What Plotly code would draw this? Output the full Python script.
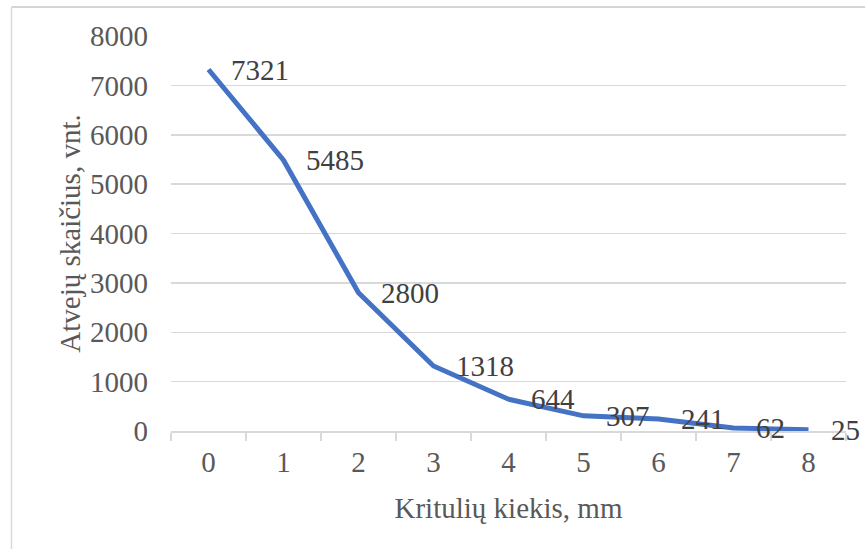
import plotly.graph_objects as go

categories = ["0", "1", "2", "3", "4", "5", "6", "7", "8"]
values = [7321, 5485, 2800, 1318, 644, 307, 241, 62, 25]
y_ticks = [0, 1000, 2000, 3000, 4000, 5000, 6000, 7000, 8000]

FONT = "Liberation Serif, Times New Roman, serif"
GREY = "#595959"
FS = 29

fig = go.Figure()
fig.add_trace(go.Scatter(
    x=categories, y=values, mode="lines",
    line=dict(color="#4472C4", width=5),
    hoverinfo="skip", showlegend=False,
))

for c, v in zip(categories, values):
    fig.add_annotation(
        x=c, y=v, xref="x", yref="y", text=str(v), showarrow=False,
        xanchor="left", yanchor="middle", xshift=20,
        font=dict(family=FONT, size=FS, color="#404040"),
    )

# outer chart border (left and top edges visible)
W, L, H, B = 675, 171, 395, 431
bx0 = (11.5 - L) / W
by1 = (B - 7) / H
fig.add_shape(type="line", xref="paper", yref="paper",
              x0=bx0, x1=(890 - L) / W, y0=by1, y1=by1,
              line=dict(color="#d4d4d4", width=2), layer="above")
fig.add_shape(type="line", xref="paper", yref="paper",
              x0=bx0, x1=bx0, y0=(B - 570) / H, y1=by1,
              line=dict(color="#d9d9d9", width=1.5), layer="above")

fig.update_layout(
    width=865, height=549,
    margin=dict(l=171, r=19, t=36, b=118),
    paper_bgcolor="white", plot_bgcolor="white",
    font=dict(family=FONT, size=FS, color=GREY),
    xaxis=dict(
        type="category", range=[-0.5, 8.5],
        tickson="boundaries", ticks="outside", ticklen=8, tickcolor="#d9d9d9", tickwidth=1.5,
        showline=True, linecolor="#d9d9d9", linewidth=1.5,
        showgrid=False, zeroline=False,
        tickfont=dict(family=FONT, size=FS, color=GREY),
        ticklabelstandoff=5,
        title=dict(text="Kritulių kiekis, mm", font=dict(family=FONT, size=FS, color=GREY), standoff=20),
    ),
    yaxis=dict(
        range=[0, 8000], tickvals=y_ticks, ticktext=[str(t) for t in y_ticks],
        showgrid=True, gridcolor="#d9d9d9", gridwidth=1.5,
        showline=False, zeroline=False, ticks="",
        tickfont=dict(family=FONT, size=FS, color=GREY),
        ticklabelstandoff=22,
        title=dict(text="Atvejų skaičius, vnt.", font=dict(family=FONT, size=FS, color=GREY), standoff=0),
    ),
)

fig.write_html(
    "out.html",
    config={"displayModeBar": False, "staticPlot": True},
    post_script="document.body.style.margin='0';document.body.style.overflow='hidden';",
)
